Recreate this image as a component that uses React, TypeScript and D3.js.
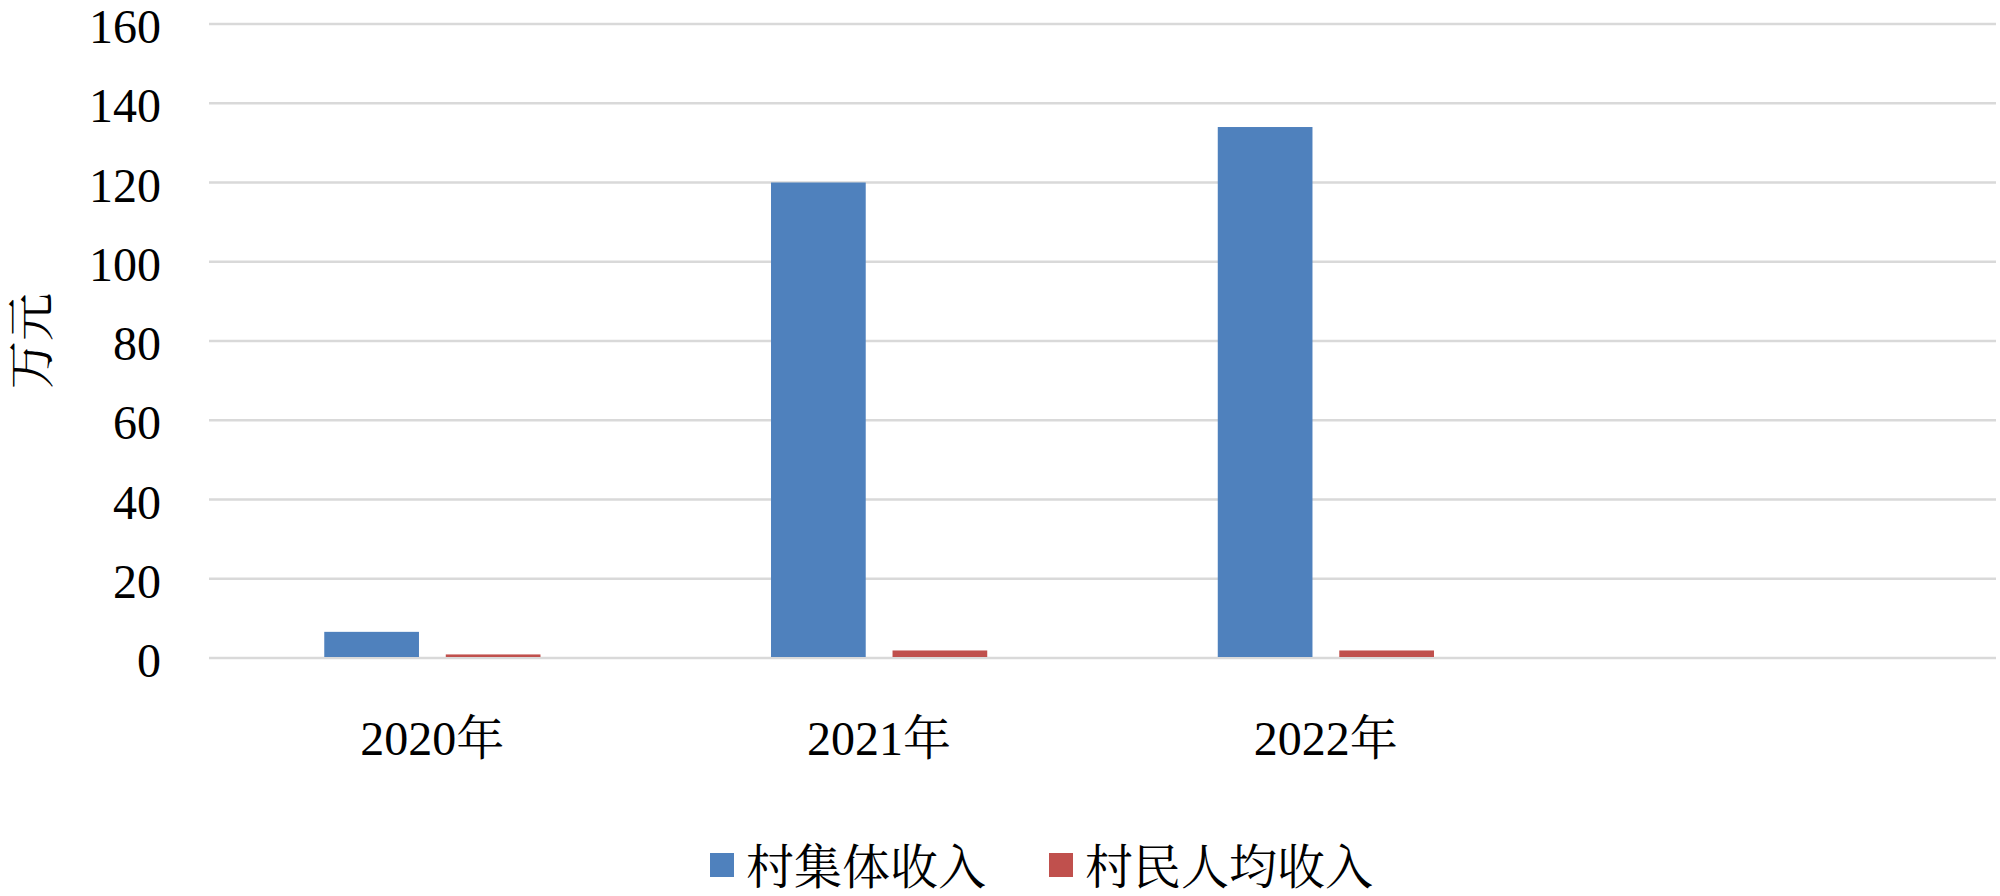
import React from "react";
import * as d3 from "d3";

const categories = ["2020年", "2021年", "2022年", ""];
const seriesNames = ["村集体收入", "村民人均收入"];
const collectiveIncome = [6.6, 120, 134, null];
const perCapitaIncome = [0.9, 1.9, 1.9, null];
const yTicks = [0, 20, 40, 60, 80, 100, 120, 140, 160];
const colors = ["#4F81BD", "#C0504D"];
const yTitle = "万元";

const W = 2000;
const H = 896;
const plot = { left: 209, right: 1996, top: 24, bottom: 658 };
const FONT = "'Liberation Serif', 'Times New Roman', 'Noto Serif CJK SC', 'Noto Sans CJK SC', serif";

export default function App() {
  const x = d3.scaleBand<string>().domain(categories.map((c, i) => String(i))).range([plot.left, plot.right]);
  const y = d3.scaleLinear().domain([0, 160]).range([plot.bottom, plot.top]);
  const bw = x.bandwidth();
  const barW = bw * 0.212;
  const innerGap = bw * 0.03;
  const series = [collectiveIncome, perCapitaIncome];

  return (
    <svg width={W} height={H} style={{ position: "absolute", left: 0, top: 0, background: "#fff" }} fontFamily={FONT}>
      <rect x={0} y={0} width={W} height={H} fill="#fff" />
      {yTicks.map((t) => (
        <g key={t}>
          <line x1={plot.left} x2={plot.right} y1={y(t)} y2={y(t)} stroke="#D9D9D9" strokeWidth={2.5} />
          <text x={161} y={y(t) + 19} textAnchor="end" fontSize={48} fill="#000">
            {t}
          </text>
        </g>
      ))}
      {series.map((vals, si) =>
        vals.map((v, ci) => {
          if (v == null) return null;
          const c = x(String(ci))! + bw / 2;
          const x0 = si === 0 ? c - innerGap - barW : c + innerGap;
          return (
            <rect
              key={`${si}-${ci}`}
              x={x0}
              y={y(v)}
              width={barW}
              height={y(0) - y(v) - 1}
              fill={colors[si]}
            />
          );
        })
      )}
      {categories.map((c, i) => (
        <text key={i} x={x(String(i))! + bw / 2} y={755} textAnchor="middle" fontSize={48} fill="#000">
          {c}
        </text>
      ))}
      <text
        transform={`translate(48, ${(plot.top + plot.bottom) / 2}) rotate(-90)`}
        textAnchor="middle"
        fontSize={48}
        fill="#000"
      >
        {yTitle}
      </text>
      <g>
        <rect x={710} y={853} width={24} height={24} fill={colors[0]} />
        <text x={746} y={884} fontSize={48} fill="#000">{seriesNames[0]}</text>
        <rect x={1049} y={853} width={24} height={24} fill={colors[1]} />
        <text x={1085} y={884} fontSize={48} fill="#000">{seriesNames[1]}</text>
      </g>
    </svg>
  );
}
